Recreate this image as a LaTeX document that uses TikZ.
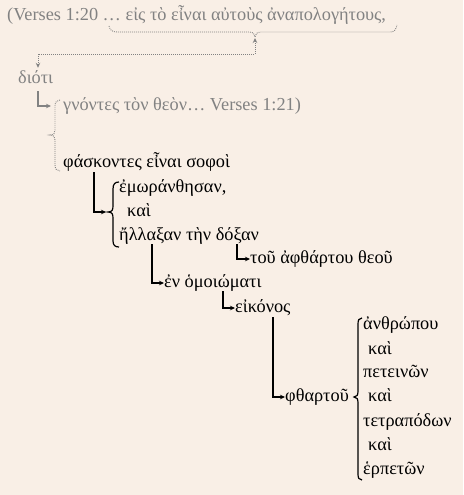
\documentclass[tikz,border=0pt]{standalone}
\usepackage{fontspec}
\setmainfont{Liberation Serif}
\usetikzlibrary{arrows.meta,calc}
\definecolor{bgc}{HTML}{F9EFE6}
\definecolor{gry}{HTML}{828282}
\begin{document}
\begin{tikzpicture}[x=1pt,y=-1pt,
  txt/.style={anchor=west,inner sep=0pt,text height=12pt,text depth=4pt,font=\fontsize{18.3}{21}\selectfont,text=black},
  gtxt/.style={txt,text=gry},
  conn/.style={draw=black,line width=1.2pt,-{Stealth[length=5pt,width=4.5pt]}},
  gconn/.style={draw=gry,line width=1.1pt,-{Stealth[length=5pt,width=4.5pt]}},
  dconn/.style={draw=gry,line width=0.9pt,dash pattern=on 0.9pt off 1.1pt,{Stealth[length=5pt,width=4.5pt]}-{Stealth[length=5pt,width=4.5pt]}},
  brc/.style={draw=black,line width=1.2pt},
  dbrc/.style={draw=gry,line width=0.9pt,dash pattern=on 0.9pt off 1.1pt}]
\fill[bgc] (0,0) rectangle (463,495);
\useasboundingbox (0,0) rectangle (463,495);
% texts
\node[gtxt] (l1) at (7,17) {(Verses 1:20 … εἰς τὸ εἶναι αὐτοὺς ἀναπολογήτους,};
\node[gtxt] (dioti) at (18,80) {διότι};
\node[gtxt] (gnon) at (63,106) {γνόντες τὸν θεὸν… Verses 1:21)};
\node[txt] (fask) at (63,163) {φάσκοντες εἶναι σοφοὶ};
\node[txt] (emor) at (119,188) {ἐμωράνθησαν,};
\node[txt] (kai1) at (127,212) {καὶ};
\node[txt] (ellax) at (119,236) {ἤλλαξαν τὴν δόξαν};
\node[txt] (tou) at (250,259) {τοῦ ἀφθάρτου θεοῦ};
\node[txt] (en) at (164,283) {ἐν ὁμοιώματι};
\node[txt] (eik) at (235,308) {εἰκόνος};
\node[txt] (phth) at (285,397) {φθαρτοῦ};
\node[txt] (anth) at (363,325) {ἀνθρώπου};
\node[txt] (kai2) at (368,350) {καὶ};
\node[txt] (pet) at (363,373) {πετεινῶν};
\node[txt] (kai3) at (368,397) {καὶ};
\node[txt] (tetr) at (363,422) {τετραπόδων};
\node[txt] (kai4) at (368,446) {καὶ};
\node[txt] (herp) at (363,470) {ἑρπετῶν};
% grey dotted brace under line 1
\coordinate (cusp1) at (255,37);
\draw[dbrc] (109,26) .. controls (110,30) and (112,32) .. (117,32) -- (249,32) .. controls (253,32) and (255,34) .. (cusp1) .. controls (255,34) and (257,32) .. (261,32) -- (390,32) .. controls (394,32) and (396,30) .. (397,25);
\coordinate (turn1) at (255,54);
\draw[dconn] ($(cusp1)+(0,1)$) -- (turn1) -| ($(dioti.north west)+(20,-4)$);
% grey elbow
\draw[gconn] ($(dioti.south west)+(20,3)$) |- ($(gnon.west)+(-12,0)$);
% grey dotted brace left
\draw[dbrc] (60,100) .. controls (57,100) and (55,102) .. (55,106) -- (55,130) .. controls (55,133) and (54,135) .. (50,135) .. controls (54,135) and (55,137) .. (55,140) -- (55,165) .. controls (55,169) and (57,171) .. (60,171);
% black connectors
\coordinate (cusp2) at (108,212);
\draw[conn] ($(fask.west)+(31,9)$) |- ($(cusp2)+(-2,0)$);
\draw[brc] (119,182) .. controls (115,182) and (113,184) .. (113,189) -- (113,206) .. controls (113,210) and (112,212) .. (cusp2) .. controls (112,212) and (113,214) .. (113,218) -- (113,241) .. controls (113,245) and (115,247) .. (119,247);
\draw[conn] ($(ellax.west)+(33,8)$) |- (en.west);
\draw[conn] ($(ellax.west)+(118,8)$) |- (tou.west);
\draw[conn] ($(en.west)+(59,8)$) |- (eik.west);
\draw[conn] ($(eik.west)+(38,9)$) |- (phth.west);
\draw[brc] (362,318) .. controls (359,318) and (358,320) .. (358,324) -- (358,391) .. controls (358,395) and (357,397) .. (354,397) .. controls (357,397) and (358,399) .. (358,403) -- (358,474) .. controls (358,478) and (359,480) .. (362,480);
\end{tikzpicture}
\end{document}
